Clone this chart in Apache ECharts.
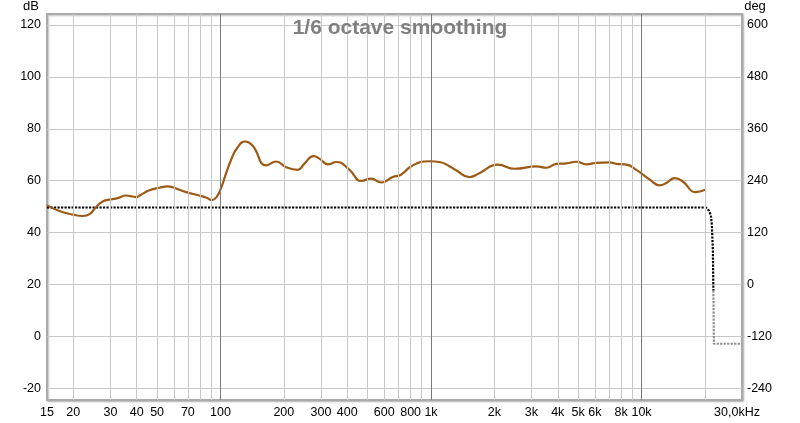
<!DOCTYPE html>
<html><head><meta charset="utf-8">
<script src="https://cdn.jsdelivr.net/npm/echarts@6/dist/echarts.min.js"></script>
<style>html,body{margin:0;padding:0;background:#fff}#c{width:800px;height:423px}</style>
</head><body><div id="c"></div>
<script>
// Magnitude (dB) vs frequency (Hz)
const magFreq = [15,17.2,20,22.2,24,25.5,27.6,30.2,32.5,35.6,39.8,41.3,46,51.3,56.2,59.3,68.7,79.5,86,91,96,101,106,112,120,131,142,165,184,205,233,250,277,295,324,355,410,466,520,580,658,720,818,983,1097,1224,1316,1521,1697,2076,2496,3166,3533,3941,4397,4905,5474,6107,7060,7595,8473,9452,10950,12200,13100,14400,15800,18000,20100];
const magDb   = [50.5,48.3,46.9,46.4,47.2,49.6,52.0,52.8,53.3,54.3,53.7,54.3,56.3,57.3,57.8,57.5,55.6,54.3,53.4,52.5,53.8,57.5,62.5,67.8,72.6,75.1,73.6,65.9,67.4,65.2,64.2,66.5,69.5,68.5,66.3,67.2,64.2,59.9,60.8,59.3,61.4,62.3,65.9,67.5,67.2,65.6,64.0,61.4,62.9,66.2,64.6,65.5,65.0,66.5,66.7,67.3,66.3,66.9,67.1,66.5,66.2,64.2,60.4,58.2,59.1,61.0,59.5,55.6,56.5];
// Phase (deg)
const phaseFreq = [15,100,1000,10000,20200,20880,21340,21580,21820,21940];
const phaseDeg  = [178,178,178,178,178,171,160,137,79,-14];
const tailFreq  = [21940,22060,30000];
const tailDeg   = [-14,-137,-137];
// Axes
const gridFreqs = [20,30,40,50,60,70,80,90,100,200,300,400,500,600,700,800,900,1000,2000,3000,4000,5000,6000,7000,8000,9000,10000,20000];
const decadeFreqs = [100,1000,10000];
const xTickFreqs  = [15,20,30,40,50,70,100,200,300,400,600,800,1000,2000,3000,4000,5000,6000,8000,10000,30000];
const xTickLabels = ['15','20','30','40','50','70','100','200','300','400','600','800','1k','2k','3k','4k','5k','6k','8k','10k','30,0kHz'];
const dbRange  = [-20, 120, 20];
const degRange = [-240, 600, 120];
const titleText = '1/6 octave smoothing';

const FONT = 'Liberation Sans, Arial, sans-serif';
const L = 47, R = 58;
const chart = echarts.init(document.getElementById('c'), null, {renderer: 'canvas'});
const zip = (a, b) => a.map((v, i) => [v, b[i]]);

chart.setOption({
  animation: false,
  backgroundColor: '#fff',
  title: {text: titleText, left: 'center', top: 13,
    textStyle: {fontSize: 21, fontWeight: 'bold', color: '#808080', fontFamily: FONT}},
  graphic: [
    {type: 'text', x: 31, y: 0, style: {text: 'dB', align: 'center', verticalAlign: 'top', font: '13px ' + FONT, fill: '#000'}},
    {type: 'text', x: 755, y: 0, style: {text: 'deg', align: 'center', verticalAlign: 'top', font: '13px ' + FONT, fill: '#000'}}
  ],
  grid: [
    {left: L, right: R, top: 14, bottom: 23, show: true, backgroundColor: '#fff',
     borderColor: '#aaaaaa', borderWidth: 2, shadowColor: 'rgba(0,0,0,0.25)', shadowBlur: 2, shadowOffsetX: 1, shadowOffsetY: 1},
    {left: L, right: R, top: 25, bottom: 34.7}
  ],
  xAxis: [
    {type: 'log', logBase: 10, min: 15, max: 30000, gridIndex: 0,
     axisLine: {show: false}, axisTick: {show: false}, axisLabel: {show: false}, splitLine: {show: false}},
    {type: 'log', logBase: 10, min: 15, max: 30000, gridIndex: 1, show: false}
  ],
  yAxis: [
    {type: 'value', min: 0, max: 1, gridIndex: 0, show: false},
    {type: 'value', gridIndex: 1, position: 'left', min: dbRange[0], max: dbRange[1], interval: dbRange[2],
     axisLine: {show: false}, axisTick: {show: false},
     axisLabel: {margin: 6, color: '#000', fontSize: 12.5, fontFamily: FONT},
     splitLine: {lineStyle: {color: '#c8c8c8', width: 1}}},
    {type: 'value', gridIndex: 1, position: 'right', min: degRange[0], max: degRange[1], interval: degRange[2],
     axisLine: {show: false}, axisTick: {show: false},
     axisLabel: {margin: 5, color: '#000', fontSize: 12.5, fontFamily: FONT},
     splitLine: {show: false}}
  ],
  series: [
    {type: 'line', xAxisIndex: 0, yAxisIndex: 0, data: [], symbol: 'none', silent: true, z: 1,
     markLine: {silent: true, symbol: ['none', 'none'], animation: false,
       label: {show: false},
       lineStyle: {type: 'solid', width: 1, color: '#c8c8c8'},
       data: gridFreqs.map(f => ({xAxis: f, lineStyle: {type: 'solid', width: 1,
         color: decadeFreqs.includes(f) ? '#7a7a7a' : '#c8c8c8'}}))}},
    {type: 'line', xAxisIndex: 0, yAxisIndex: 0, data: [], symbol: 'none', silent: true, z: 1,
     markLine: {silent: true, symbol: ['none', 'none'], animation: false,
       lineStyle: {color: 'rgba(0,0,0,0)', width: 1, type: 'solid'},
       label: {show: true, position: 'start', distance: 6, color: '#000', fontSize: 12.5, fontFamily: FONT},
       data: xTickFreqs.map((f, i) => ({xAxis: f, label: {show: true, formatter: xTickLabels[i],
         offset: i === xTickFreqs.length - 1 ? [-5, 0] : [0, 0]}}))}},
    {name: 'phase', type: 'line', xAxisIndex: 1, yAxisIndex: 2, data: zip(phaseFreq, phaseDeg),
     symbol: 'none', z: 3, clip: false,
     lineStyle: {color: '#000', width: 2.2, type: [2.2, 1.3]}},
    {name: 'phaseTail', type: 'line', xAxisIndex: 1, yAxisIndex: 2, data: zip(tailFreq, tailDeg),
     symbol: 'none', z: 3, clip: false,
     lineStyle: {color: '#8f8f8f', width: 2.2, type: [2.2, 1.3]}},
    {name: 'magnitude', type: 'line', xAxisIndex: 1, yAxisIndex: 1, data: zip(magFreq, magDb),
     symbol: 'none', smooth: 0.5, z: 4, clip: false,
     lineStyle: {color: '#9c5a14', width: 2.2}}
  ]
});
</script></body></html>
